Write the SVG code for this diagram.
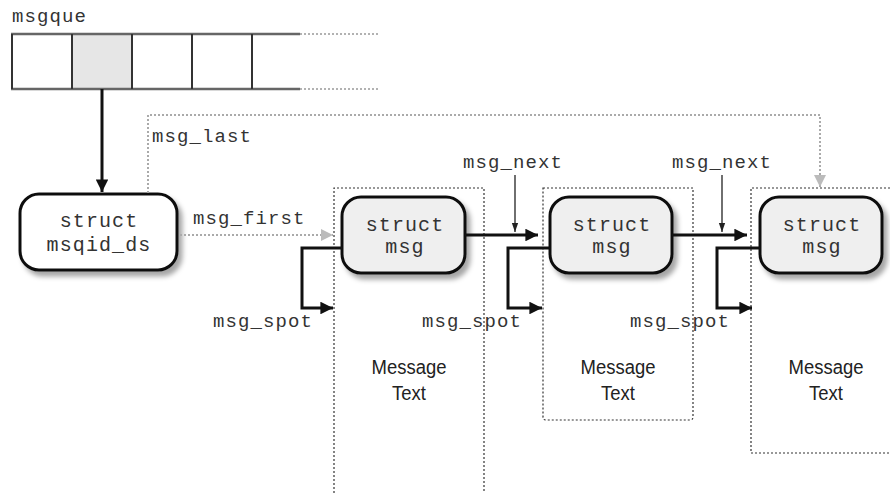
<svg xmlns="http://www.w3.org/2000/svg" width="890" height="493" viewBox="0 0 890 493">
<defs>
<style>
.mono{font-family:"Liberation Mono","DejaVu Sans Mono",monospace;font-size:19px;letter-spacing:1.1px;fill:#333}
.bx{font-family:"Liberation Mono","DejaVu Sans Mono",monospace;font-size:20px;letter-spacing:1.1px;fill:#333;text-anchor:middle}
.mt{font-family:"Liberation Sans","Arial",sans-serif;font-size:21px;fill:#222;text-anchor:middle}
.thick{fill:none;stroke:#111;stroke-width:3}
.thin{fill:none;stroke:#222;stroke-width:1.3}
.gdot{fill:none;stroke:#aaa;stroke-width:2;stroke-dasharray:2 2}
.frame{fill:none;stroke:#333;stroke-width:1.2;stroke-dasharray:2 2}
.node{stroke:#111;stroke-width:3}
</style>
<filter id="sh" x="-20%" y="-20%" width="150%" height="160%">
<feGaussianBlur in="SourceAlpha" stdDeviation="2.5"/>
<feOffset dx="4" dy="5" result="b"/>
<feFlood flood-color="#000" flood-opacity="0.35"/>
<feComposite in2="b" operator="in"/>
<feMerge><feMergeNode/><feMergeNode in="SourceGraphic"/></feMerge>
</filter>
<marker id="ah" viewBox="0 0 10 10" refX="10" refY="5" markerWidth="5" markerHeight="4.2" markerUnits="strokeWidth" orient="auto"><path d="M0,0L10,5L0,10z" fill="#111"/></marker>
<marker id="ahs" viewBox="0 0 10 10" refX="10" refY="5" markerWidth="7" markerHeight="7" markerUnits="strokeWidth" orient="auto"><path d="M0,1.5L10,5L0,8.5z" fill="#222"/></marker>
<marker id="ahg" viewBox="0 0 10 10" refX="10" refY="5" markerWidth="7.5" markerHeight="6" markerUnits="strokeWidth" orient="auto"><path d="M0,0L10,5L0,10z" fill="#bbb"/></marker>
</defs>
<rect width="890" height="493" fill="#fff"/>

<g id="msgque">
<text class="mono" x="12" y="22">msgque</text>
<rect x="72" y="34" width="60" height="55" fill="#e6e6e6"/>
<path d="M11,34H300M11,89H300" stroke="#666" stroke-width="2.5" fill="none"/>
<path d="M300,34H380M300,89H380" stroke="#999" stroke-width="1.5" stroke-dasharray="2 2" fill="none"/>
<path d="M12,34V89M72,34V89M132,34V89M192,34V89M252,34V89" stroke="#333" stroke-width="2" fill="none"/>
</g>

<g id="frames">
<path class="frame" d="M334,493V188H484V493"/>
<path class="frame" d="M543,188H693V417Q693,420 690,420H546Q543,420 543,417Z"/>
<path class="frame" d="M890,188H751V453H890"/>
</g>

<g id="msqid_ds">
<rect class="node" x="20" y="194" width="157" height="76" rx="19" fill="#fff" filter="url(#sh)"/>
<text class="bx" x="99" y="227">struct</text>
<text class="bx" x="99" y="251">msqid_ds</text>
</g>

<g id="msg1">
<rect class="node" x="342" y="197" width="123" height="76" rx="19" fill="#efefef" filter="url(#sh)"/>
<text class="bx" x="405" y="231">struct</text>
<text class="bx" x="405" y="253">msg</text>
</g>
<g id="msg2">
<rect class="node" x="550" y="197" width="122" height="76" rx="19" fill="#efefef" filter="url(#sh)"/>
<text class="bx" x="612" y="231">struct</text>
<text class="bx" x="612" y="253">msg</text>
</g>
<g id="msg3">
<rect class="node" x="760" y="197" width="122" height="76" rx="19" fill="#efefef" filter="url(#sh)"/>
<text class="bx" x="822" y="231">struct</text>
<text class="bx" x="822" y="253">msg</text>
</g>

<g id="text1" transform="translate(409,0) scale(0.88,1)"><text class="mt" x="0" y="374">Message</text><text class="mt" x="0" y="400">Text</text></g>
<g id="text2" transform="translate(618,0) scale(0.88,1)"><text class="mt" x="0" y="374">Message</text><text class="mt" x="0" y="400">Text</text></g>
<g id="text3" transform="translate(826,0) scale(0.88,1)"><text class="mt" x="0" y="374">Message</text><text class="mt" x="0" y="400">Text</text></g>

<g id="connectors">
<path class="thick" d="M102,89V192" marker-end="url(#ah)"/>
<path class="gdot" d="M148,193V115H820V187" marker-end="url(#ahg)"/>
<path class="gdot" d="M180,235H333" marker-end="url(#ahg)"/>
<path class="thick" d="M465,235H538" marker-end="url(#ah)"/>
<path class="thick" d="M672,235H747" marker-end="url(#ah)"/>
<path class="thin" d="M515,175V232" marker-end="url(#ahs)"/>
<path class="thin" d="M722,175V232" marker-end="url(#ahs)"/>
<path class="thick" d="M342,248H302V308H333" marker-end="url(#ah)"/>
<path class="thick" d="M550,248H508V308H542" marker-end="url(#ah)"/>
<path class="thick" d="M760,248H717V308H752" marker-end="url(#ah)"/>
</g>

<g id="labels">
<text class="mono" x="152" y="142">msg_last</text>
<text class="mono" x="193" y="224">msg_first</text>
<text class="mono" x="463" y="168">msg_next</text>
<text class="mono" x="672" y="168">msg_next</text>
<text class="mono" x="213" y="327">msg_spot</text>
<text class="mono" x="422" y="327">msg_spot</text>
<text class="mono" x="630" y="327">msg_spot</text>
</g>
</svg>
